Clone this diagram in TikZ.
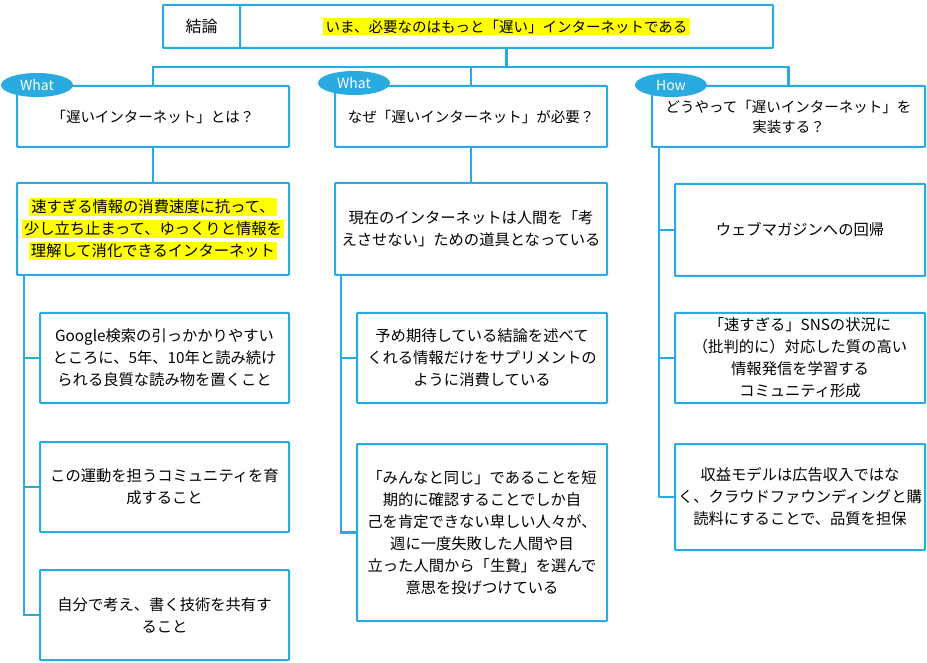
\documentclass[tikz,border=0pt]{standalone}
\usepackage{fontspec}
\setmainfont{Noto Sans CJK JP}
\usetikzlibrary{shapes.geometric}
\definecolor{lineblue}{RGB}{41,171,226}
\definecolor{hlyellow}{RGB}{255,255,0}
\newcommand{\hlt}[1]{{\setlength{\fboxsep}{1.5pt}\colorbox{hlyellow}{#1}}}
\newcommand{\hltb}[1]{{\setlength{\fboxsep}{2.2pt}\colorbox{hlyellow}{#1}}}
\begin{document}
\begin{tikzpicture}[x=1pt,y=-1pt,
  card/.style={draw=lineblue,line width=2pt,fill=white,align=center,inner sep=3pt,
    rounded corners=0.8pt,font=\fontsize{15.3}{22}\selectfont},
  headcard/.style={card,font=\fontsize{14.5}{20}\selectfont},
  topcell/.style={card,font=\fontsize{14.5}{20}\selectfont},
  tag/.style={ellipse,fill=lineblue,text=white,minimum width=72pt,minimum height=24pt,
    inner sep=0pt,font=\fontsize{14}{14}\selectfont},
  link/.style={draw=lineblue,line width=2.4pt}
]
\useasboundingbox (0,0) rectangle (927,663);
\fill[white] (0,0) rectangle (927,663);

% top row
\node[topcell,minimum width=77pt,minimum height=43pt,font=\fontsize{16}{20}\selectfont] (concl) at (201.5,26.5) {結論};
\node[topcell,minimum width=533pt,minimum height=43pt] (main) at (506.5,26.5)
  {\hltb{いま、必要なのはもっと「遅い」インターネットである}};

% headers
\node[headcard,minimum width=272pt,minimum height=61pt] (h1) at (153,116.5)
  {「遅いインターネット」とは？};
\node[headcard,minimum width=272pt,minimum height=61pt] (h2) at (471,116.5)
  {なぜ「遅いインターネット」が必要？};
\node[headcard,minimum width=273pt,minimum height=61pt] (h3) at (788.5,116.5)
  {どうやって「遅いインターネット」を\\実装する？};

% second row
\node[card,minimum width=272pt,minimum height=92pt] (b1) at (153,229)
  {\hltb{速すぎる情報の消費速度に抗って、}\\\hltb{少し立ち止まって、ゆっくりと情報を}\\\hltb{理解して消化できるインターネット}};
\node[card,minimum width=272pt,minimum height=92pt] (b2) at (471,229)
  {現在のインターネットは人間を「考\\えさせない」ための道具となっている};
\node[card,minimum width=250pt,minimum height=92pt] (b3) at (800,230)
  {ウェブマガジンへの回帰};

% third row
\node[card,minimum width=249pt,minimum height=90pt] (c1) at (164.5,358)
  {Google検索の引っかかりやすい\\ところに、5年、10年と読み続け\\られる良質な読み物を置くこと};
\node[card,minimum width=250pt,minimum height=90pt] (c2) at (482,358)
  {予め期待している結論を述べて\\くれる情報だけをサプリメントの\\ように消費している};
\node[card,minimum width=250pt,minimum height=90pt] (c3) at (800,358)
  {「速すぎる」SNSの状況に\\（批判的に）対応した質の高い\\情報発信を学習する\\コミュニティ形成};

% fourth row
\node[card,minimum width=249pt,minimum height=90pt] (d1) at (164.5,487)
  {この運動を担うコミュニティを育\\成すること};
\node[card,minimum width=250pt,minimum height=177pt] (d2) at (482,532.5)
  {「みんなと同じ」であることを短\\期的に確認することでしか自\\己を肯定できない卑しい人々が、\\週に一度失敗した人間や目\\立った人間から「生贄」を選んで\\意思を投げつけている};
\node[card,minimum width=250pt,minimum height=106pt] (d3) at (800,497)
  {収益モデルは広告収入ではな\\く、クラウドファウンディングと購\\読料にすることで、品質を担保};

% fifth row
\node[card,minimum width=249pt,minimum height=90pt] (e1) at (164.5,615)
  {自分で考え、書く技術を共有す\\ること};

% connectors
\coordinate (hl) at (153,67);
\draw[link] (main.south) -- (main.south |- hl);
\draw[link] (h1.north) -- (h1.north |- hl) -| (h3.north);
\draw[link] (h2.north) -- (h2.north |- hl);
\draw[link] (h1.south) -- (b1.north);
\draw[link] (h2.south) -- (b2.north);

\coordinate (sp1) at ([xshift=8pt]b1.south west);
\draw[link] (sp1) |- (e1.west);
\draw[link] (sp1 |- c1.west) -- (c1.west);
\draw[link] (sp1 |- d1.west) -- (d1.west);

\coordinate (sp2) at ([xshift=7pt]b2.south west);
\draw[link] (sp2) |- (d2.west);
\draw[link] (sp2 |- c2.west) -- (c2.west);

\coordinate (sp3) at ([xshift=8pt]h3.south west);
\draw[link] (sp3) |- (d3.west);
\draw[link] (sp3 |- b3.west) -- (b3.west);
\draw[link] (sp3 |- c3.west) -- (c3.west);

% tags
\node[tag] (t1) at (37,85) {What};
\node[tag] (t2) at (354,83) {What};
\node[tag] (t3) at (671,85) {How};
\end{tikzpicture}
\end{document}
